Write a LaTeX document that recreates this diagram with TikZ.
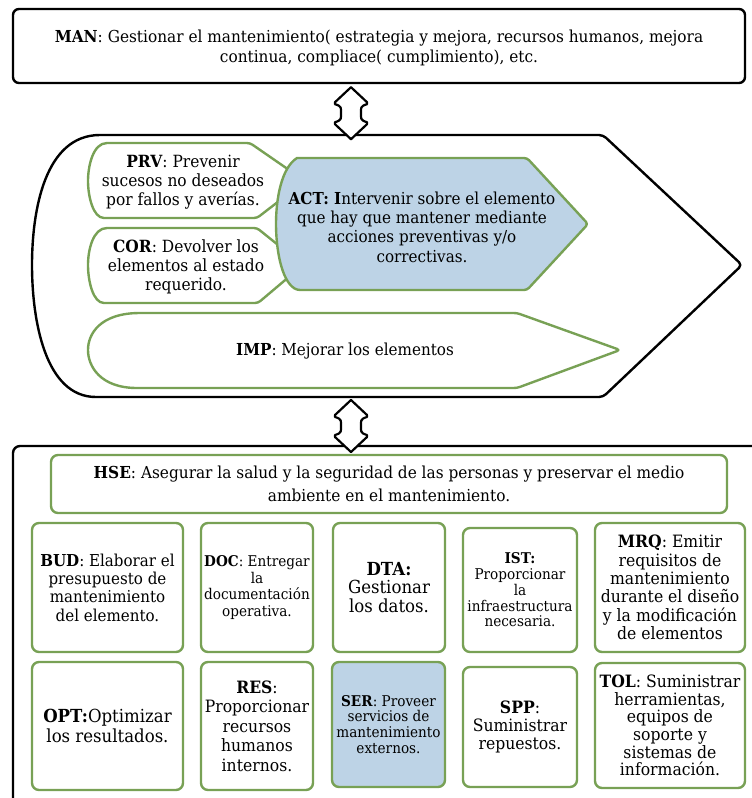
\documentclass[tikz,border=0pt]{standalone}
\usepackage{fontspec}
\setmainfont{DejaVu Serif}[FakeStretch=0.92]
\newfontfamily\wideserif{DejaVu Serif}[FakeStretch=0.93]
\definecolor{leaf}{HTML}{78A155}
\definecolor{pale}{HTML}{BDD3E6}
\newcommand{\fs}[2]{\fontsize{#1}{#2}\selectfont}
\tikzset{
  blackline/.style={draw=black, line width=2.4pt, line join=round},
  greenline/.style={draw=leaf, line width=2.4pt, line join=round},
  frame/.style={blackline, rounded corners=6pt},
  cell/.style={greenline, rounded corners=7pt, fill=white, align=center,
               inner sep=0pt, minimum width=#1},
  cell/.default=112pt,
  txt/.style={align=center, inner sep=0pt},
  dblarrow/.style={blackline, fill=white, line width=2.2pt}
}
\begin{document}
\begin{tikzpicture}[x=1pt,y=-1pt]
\useasboundingbox (0,0) rectangle (752,798);
\clip (0,0) rectangle (752,798);

% --- top management box
\path (379,46) node[frame, minimum width=732pt, minimum height=74pt] (man) {}
  ++(0,2) node[txt, font=\wideserif\fs{16.5}{20}] (mantext)
  {\textbf{MAN}: Gestionar el mantenimiento( estrategia y mejora, recursos humanos, mejora\\
   continua, compliace( cumplimiento), etc.};

% --- middle arrow-shaped container
\draw[blackline, rounded corners=4pt] (100,135) -- (603,135) -- (742,265) -- (603,397) -- (100,397)
   [sharp corners] .. controls (45,397) and (32,320) .. (32,265)
   .. controls (32,210) and (45,135) .. (100,135) -- cycle;
\coordinate (mid) at (351,135);
\coordinate (midb) at (351,397);

% PRV and COR sit behind ACT
\draw[greenline, fill=white, rounded corners=3pt] (107,143) -- (250,143) -- (305,181) -- (257,218) -- (107,218)
   [sharp corners] .. controls (93,218) and (88,196) .. (88,181)
   .. controls (88,166) and (93,143) .. (107,143) -- cycle;
\draw[greenline, fill=white, rounded corners=3pt] (107,228) -- (257,228) -- (303,265) -- (258,303) -- (107,303)
   [sharp corners] .. controls (93,303) and (88,281) .. (88,265)
   .. controls (88,250) and (93,228) .. (107,228) -- cycle;
\draw[greenline, fill=pale, rounded corners=3pt] (297,158) -- (527,158) -- (588,224) -- (527,290) -- (297,290)
   [sharp corners] .. controls (281,280) and (276,248) .. (276,224)
   .. controls (276,200) and (281,168) .. (297,158) -- cycle;
\draw[greenline, fill=white, rounded corners=3pt] (140,313) -- (517,313) -- (620,350) -- (517,388) -- (140,388)
   [sharp corners] .. controls (100,388) and (88,366) .. (88,350)
   .. controls (88,334) and (100,313) .. (140,313) -- cycle;

\node[txt, font=\fs{16.8}{19.3}] (prv) at (183,182)
  {\textbf{PRV}: Prevenir\\ sucesos no deseados\\ por fallos y averías.};
\node[txt, font=\fs{16.8}{19.3}] (cor) at (186,267)
  {\textbf{COR}: Devolver los\\ elementos al estado\\ requerido.};
\node[txt, font=\fs{16.5}{19.3}] (act) at (422,227)
  {\textbf{ACT: I}ntervenir sobre el elemento\\ que hay que mantener mediante\\ acciones preventivas y/o\\ correctivas.};
\node[txt, font=\fs{16.5}{19.3}] (imp) at (345,351)
  {\textbf{IMP}: Mejorar los elementos};

% --- lower container
\draw[blackline, rounded corners=7pt] (13,820) -- (13,446) -- (780,446);
\coordinate (low) at (351,446);

\node[cell=676pt, minimum height=58pt, font=\wideserif\fs{16.5}{23}] (hse) at (389,484)
  {\textbf{HSE}: Asegurar la salud y la seguridad de las personas y preservar el medio\\
   ambiente en el mantenimiento.};

% first row
\node[cell=151pt, minimum height=129pt, font=\fs{16.4}{18.4}] (bud) at (107.5,587.5)
  {\textbf{BUD}: Elaborar el\\ presupuesto de\\ mantenimiento\\ del elemento.};
\node[cell, minimum height=129pt, font=\fs{14.8}{16.7}] (doc) at (257,587.5)
  {\textbf{DOC}: Entregar\\ la\\ documentación\\ operativa.};
\node[cell, minimum height=129pt, font=\fs{18}{18.4}] (dta) at (389,587.5)
  {\textbf{DTA:}\\ Gestionar\\ los datos.};
\node[cell=114pt, minimum height=124pt, font=\fs{14.8}{15.8}] (ist) at (520,590)
  {\textbf{IST:}\\ Proporcionar\\ la\\ infraestructura\\ necesaria.};
\node[cell=150pt, minimum height=129pt, font=\fs{17}{18.3}] (mrq) at (670,587.5)
  {\textbf{MRQ}: Emitir\\ requisitos de\\ mantenimiento\\ durante el diseño\\ y la modificación\\ de elementos};

% second row
\node[cell=151pt, minimum height=128pt, font=\fs{18}{20}] (opt) at (107.5,726)
  {\textbf{OPT:}Optimizar\\ los resultados.};
\node[cell, minimum height=128pt, font=\fs{17}{19.5}] (res) at (257,726)
  {\textbf{RES}:\\ Proporcionar\\ recursos\\ humanos\\ internos.};
\node[cell=113pt, minimum height=125pt, fill=pale, font=\fs{14.8}{15.8}] (ser) at (388.5,724.5)
  {\textbf{SER}: Proveer\\ servicios de\\ mantenimiento\\ externos.};
\node[cell=114pt, minimum height=120pt, font=\fs{17}{18.3}] (spp) at (520,727)
  {\textbf{SPP}:\\ Suministrar\\ repuestos.};
\node[cell=150pt, minimum height=125pt, font=\fs{17}{17.7}] (tol) at (670,725.5)
  {\textbf{TOL}: Suministrar\\ herramientas,\\ equipos de\\ soporte y\\ sistemas de\\ información.};

% --- two-way block arrows between the levels
\foreach \top in {man.south, midb}{
  \path (\top) coordinate (t);
  \draw[dblarrow] (351,0 |- t) ++(0,3)
     -- ++(-16,15) -- ++(0,2)
     .. controls ++(7,2) and ++(0,-5) .. ++(6,9)
     .. controls ++(0,5) and ++(7,-2) .. ++(-6,9)
     -- ++(0,2) -- ++(16,15) -- ++(16,-15) -- ++(0,-2)
     .. controls ++(-7,-2) and ++(0,5) .. ++(-6,-9)
     .. controls ++(0,-5) and ++(-7,2) .. ++(6,-9)
     -- ++(0,-2) -- cycle;
}
\end{tikzpicture}
\end{document}
